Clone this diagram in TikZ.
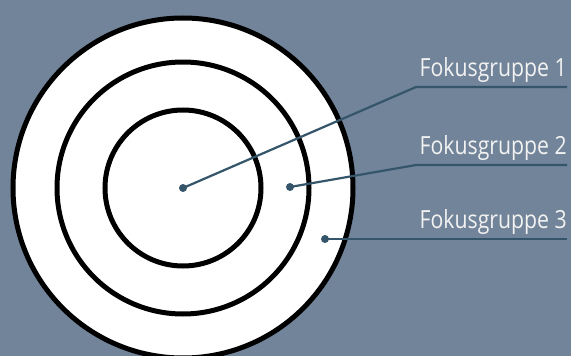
\documentclass[tikz,border=0pt]{standalone}
\usepackage{fontspec}
\setmainfont{Open Sans}[FakeStretch=0.85]
\usepackage{tikz}
\usetikzlibrary{positioning,calc}
\definecolor{bgcolor}{RGB}{114,132,153}
\definecolor{leadcolor}{RGB}{53,85,106}
\definecolor{labelcolor}{RGB}{242,242,242}

\tikzset{
  ring/.style={line width=5pt, draw=black},
  lead/.style={line width=2.2pt, draw=leadcolor},
  leaddot/.style={circle, fill=leadcolor, inner sep=0pt, minimum size=8pt},
  grouplabel/.style={text=labelcolor, font=\fontsize{25}{25}\selectfont, inner sep=0pt, anchor=base east}
}

\begin{document}
\begin{tikzpicture}[x=1pt,y=-1pt]
    \useasboundingbox (0,0) rectangle (571,356);
    \fill[bgcolor] (0,0) rectangle (571,356);

    % Zielscheibe
    \begin{scope}
        \clip (0,0) rectangle (571,356);
        \filldraw[ring, fill=white] (183,188) circle[radius=170];
        \draw[ring] (183,188) circle[radius=126];
        \draw[ring] (183,188) circle[radius=78];
    \end{scope}

    % Punkte
    \node[leaddot] (dot1) at (183,188) {};
    \node[leaddot] (dot2) at (290,187) {};
    \node[leaddot] (dot3) at (325,239) {};

    % Knicke und Enden
    \coordinate (knee1) at (416,87);
    \coordinate (end1) at (567,87);
    \coordinate (knee2) at (416,165);
    \coordinate (end2) at (567,165);
    \coordinate (end3) at (567,239);

    \draw[lead] (dot1.center) -- (knee1) -- (end1);
    \draw[lead] (dot2.center) -- (knee2) -- (end2);
    \draw[lead] (dot3.center) -- (end3);

    % Beschriftungen
    \node[grouplabel] (lab1) at (567,76) {Fokusgruppe 1};
    \node[grouplabel] (lab2) at (567,154) {Fokusgruppe 2};
    \node[grouplabel] (lab3) at (567,228) {Fokusgruppe 3};
\end{tikzpicture}
\end{document}
